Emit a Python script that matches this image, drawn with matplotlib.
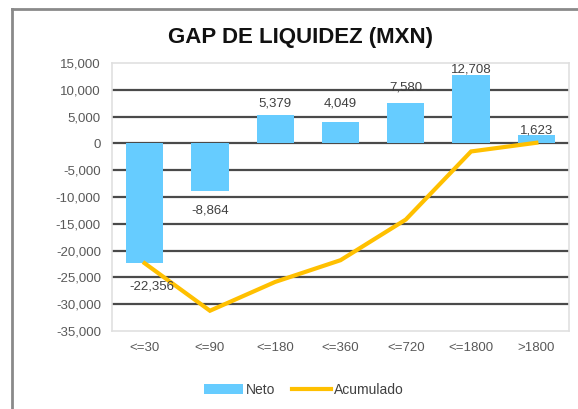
#!/usr/bin/env python3

import numpy as np

import matplotlib as mpl
mpl.use('Agg')
import matplotlib.pyplot as plt
from matplotlib.lines import Line2D
from matplotlib.ticker import FuncFormatter

plt.rcParams['font.family'] = ['Liberation Sans', 'DejaVu Sans']

categories = ['<=30', '<=90', '<=180', '<=360', '<=720', '<=1800', '>1800']
neto = [-22356, -8864, 5379, 4049, 7580, 12708, 1623]
acumulado = [-22356, -31220, -25841, -21792, -14212, -1504, 119]
neto_labels = ['-22,356', '-8,864', '5,379', '4,049', '7,580', '12,708', '1,623']

# label offsets in pixels (dx, dy) relative to the bar end, as placed in the original
label_off = [(7, -23), (0, -20), (0, 11), (0, 18), (0, 15), (0, 6), (0, 4)]

W, H = 578, 409
fig = plt.figure(figsize=(W / 100, H / 100), dpi=100)
ax = fig.add_axes([112 / W, 1 - 331 / H, 457 / W, 268 / H])

x = np.arange(len(categories))
bars = ax.bar(x, neto, width=0.57, color='#66CCFF', zorder=2)
line, = ax.plot(x, acumulado, color='#FFC000', lw=3, zorder=3, solid_joinstyle='miter')

for i, v in enumerate(neto):
    dx, dy = label_off[i]
    ax.annotate(neto_labels[i], (x[i], v), xytext=(dx, dy), textcoords='offset pixels',
                ha='center', va='center', fontsize=9.5, color='#404040', zorder=4)

ax.set_xlim(-0.5, 6.5)
ax.set_ylim(-35000, 15000)
yt = np.arange(-35000, 15001, 5000)
ax.set_yticks(yt)
ax.yaxis.set_major_formatter(FuncFormatter(lambda v, p: '{:,.0f}'.format(v)))
for v in yt[1:-1]:
    ax.axhline(v, color='#4a4a4a', lw=1.6, zorder=1)
ax.set_xticks(x)
ax.set_xticklabels(categories)
ax.tick_params(length=0, labelsize=9.5, labelcolor='#595959')
ax.tick_params(axis='y', pad=8)
ax.tick_params(axis='x', pad=8)
for s in ax.spines.values():
    s.set_color('#e0e0e0')
    s.set_linewidth(1.2)

fig.text(300 / W, 1 - 37 / H, 'GAP DE LIQUIDEZ (MXN)', ha='center', va='center',
         fontsize=16, fontweight='bold', color='#111111')

fig.legend([bars, line], ['Neto', 'Acumulado'], loc='center',
           bbox_to_anchor=(304 / W, 1 - 390 / H), ncol=2, frameon=False,
           fontsize=10, labelcolor='#404040', handlelength=2.8, handletextpad=0.2,
           columnspacing=1.2)

# outer chart frame (only top and left edges are visible in the crop)
fig.add_artist(Line2D([12 / W, 1.0], [1 - 9 / H, 1 - 9 / H], color='#8a8a8a', lw=2,
                      transform=fig.transFigure))
fig.add_artist(Line2D([12 / W, 12 / W], [0.0, 1 - 9 / H], color='#8a8a8a', lw=2,
                      transform=fig.transFigure))

plt.savefig('out.png', dpi=100)
print('Created out.png')
